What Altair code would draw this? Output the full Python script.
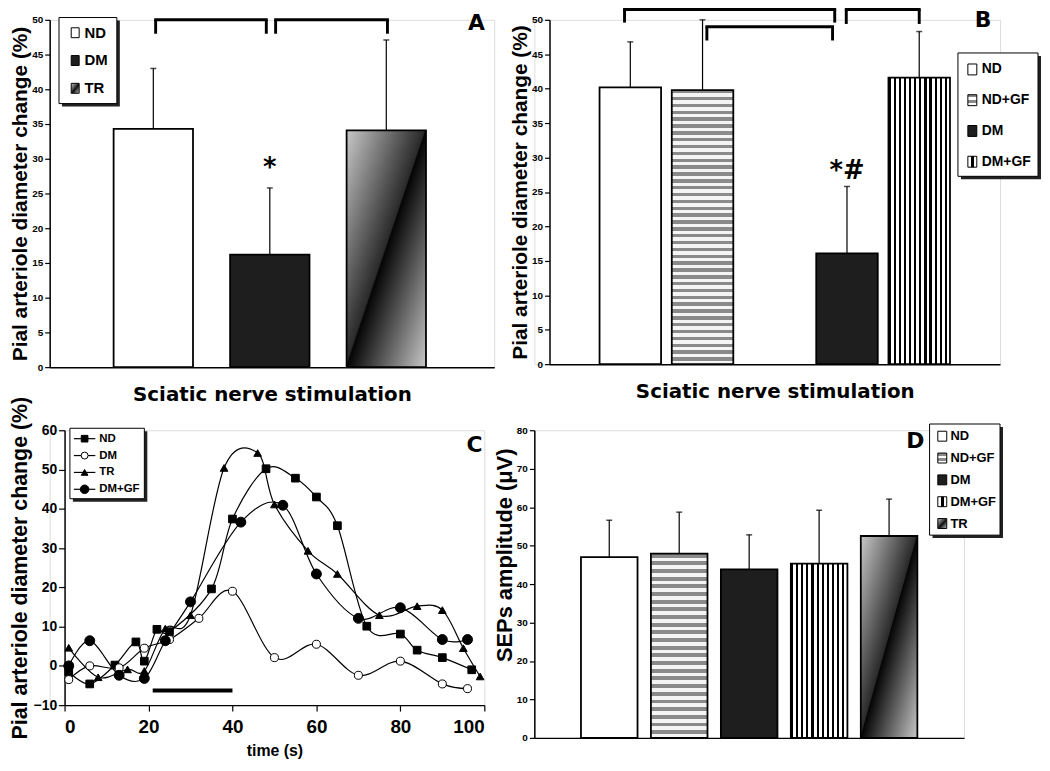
import altair as alt
import pandas as pd

# ---------------- Panel A : ND / DM / TR ----------------
A_GROUPS = ["ND", "DM", "TR"]
A_POS = [1, 2, 3]
A_MEAN = [34.3, 16.2, 34.1]
A_SD = [8.7, 9.6, 13.0]
A_BR_X1 = [1.02, 2.05]
A_BR_X2 = [1.97, 3.01]
A_BR_TOP = [50.0, 50.0]
A_BR_BOT = [48.0, 48.0]
A_SIG = ["*"]
A_SIG_X = [2]
A_SIG_Y = [29.7]

# ---------------- Panel B : ND / ND+GF / DM / DM+GF ----------------
B_GROUPS = ["ND", "ND+GF", "DM", "DM+GF"]
B_POS = [1, 2, 4, 5]
B_MEAN = [40.2, 39.8, 16.1, 41.6]
B_SD = [6.6, 10.2, 9.7, 6.7]
B_BR_X1 = [0.92, 2.06, 3.99]
B_BR_X2 = [3.83, 3.80, 5.00]
B_BR_TOP = [51.5, 49.0, 51.5]
B_BR_BOT = [49.6, 47.0, 49.4]
B_SIG = ["*#"]
B_SIG_X = [4]
B_SIG_Y = [28.4]

# ---------------- Panel C : time courses ----------------
ND_T = [1, 6, 12, 17, 19, 22, 25, 35, 40, 48, 55, 60, 65, 72, 80, 84, 90, 97]
ND_V = [-1.5, -4.6, 0.2, 6.1, 1.2, 9.3, 8.7, 19.6, 37.4, 50.2, 47.8, 43.0, 35.7, 10.1, 8.1, 4.0, 2.1, -1.0]
DM_T = [1, 6, 13, 19, 25, 32, 40, 50, 60, 70, 80, 90, 96]
DM_V = [-3.5, 0.0, -0.5, 4.5, 6.7, 12.1, 19.0, 2.1, 5.5, -2.4, 1.2, -4.6, -5.8]
TR_T = [1, 8, 15, 19, 24, 30, 38, 46, 50, 58, 65, 75, 84, 90, 95, 99]
TR_V = [4.6, -2.9, -0.9, -1.3, 9.5, 12.9, 50.4, 54.2, 41.1, 29.3, 23.4, 12.9, 15.2, 14.2, 4.5, -2.7]
GF_T = [1, 6, 13, 19, 24, 30, 42, 52, 60, 70, 80, 90, 96]
GF_V = [0.0, 6.4, -2.4, -3.2, 6.4, 16.3, 36.6, 40.9, 23.4, 12.1, 14.8, 6.7, 6.7]
C_SERIES = ["ND", "DM", "TR", "DM+GF"]
STIM_START = [21]
STIM_END = [40]
STIM_Y = [-6.3]

# ---------------- Panel D : SEPs amplitude ----------------
D_GROUPS = ["ND", "ND+GF", "DM", "DM+GF", "TR"]
D_POS = [1, 2, 3, 4, 5]
D_MEAN = [47.0, 47.9, 43.8, 45.3, 52.5]
D_SD = [9.6, 10.8, 9.0, 13.9, 9.6]

YTITLE = "Pial arteriole diameter change (%)"
XTITLE = "Sciatic nerve stimulation"
D_YTITLE = ["SEPs amplitude (\u03bcV)"]

SANS = "Liberation Sans"
HEAVY = "DejaVu Sans"


def gstops(pairs):
    return [alt.GradientStop(offset=round(o, 5), color=c) for o, c in pairs]


def stripes(n, on, off, frac, horizontal):
    pairs = []
    for i in range(n):
        pairs += [(i / n, on), ((i + frac) / n, on), ((i + frac) / n, off), ((i + 1) / n, off)]
    if horizontal:
        return alt.LinearGradient(gradient="linear", stops=gstops(pairs), x1=0, y1=0, x2=0, y2=1)
    return alt.LinearGradient(gradient="linear", stops=gstops(pairs), x1=0, y1=0, x2=1, y2=0)


def diag():
    return alt.LinearGradient(gradient="linear",
                              stops=gstops([(0, "#c8c8c8"), (0.49, "#2a2a2a"), (0.5, "#050505"), (1, "#c8c8c8")]),
                              x1=0, y1=0, x2=1, y2=1)


def dmgf_swatch():
    return alt.LinearGradient(gradient="linear",
                              stops=gstops([(0, "#ffffff"), (0.35, "#ffffff"), (0.35, "#000000"), (0.65, "#000000"),
                                            (0.65, "#ffffff"), (1, "#ffffff")]),
                              x1=0, y1=0, x2=1, y2=0)


LEG_FILLS = {"ND": "#ffffff", "ND+GF": stripes(2, "#8a8a8a", "#ffffff", 0.5, True), "DM": "#1e1e1e",
             "DM+GF": dmgf_swatch(), "TR": diag()}


def legend_box(x1, y1, x2, y2):
    one = pd.DataFrame({"k": [0]})
    shadow = alt.Chart(one).mark_rect(fill="#222222").encode(
        x=alt.value(x1 + 3), x2=alt.value(x2 + 3), y=alt.value(y1 + 3), y2=alt.value(y2 + 3))
    frame = alt.Chart(one).mark_rect(fill="white", stroke="black", strokeWidth=1).encode(
        x=alt.value(x1), x2=alt.value(x2), y=alt.value(y1), y2=alt.value(y2))
    return [shadow, frame]


def swatch_legend(labels, box, y0, dy, sx, sw, sh, tx, fsize, shift=0):
    x1, y1, x2, y2 = box
    layers = legend_box(x1 + shift, y1, x2 + shift, y2)
    for i, lab in enumerate(labels):
        yc = y0 + i * dy
        d = pd.DataFrame({"label": [lab]})
        layers.append(alt.Chart(d).mark_rect(fill=LEG_FILLS[lab], stroke="black", strokeWidth=1).encode(
            x=alt.value(sx + shift), x2=alt.value(sx + sw + shift), y=alt.value(yc - sh / 2),
            y2=alt.value(yc + sh / 2)))
        layers.append(alt.Chart(d).mark_text(align="left", baseline="middle", font=SANS, fontSize=fsize,
                                             fontWeight="bold", color="black").encode(
            x=alt.value(tx + shift), y=alt.value(yc), text="label:N"))
    return layers


def letter_layer(letter, x, y):
    d = pd.DataFrame({"letter": [letter]})
    return alt.Chart(d).mark_text(font=HEAVY, fontSize=22, fontWeight="bold", align="center",
                                  baseline="middle", color="black").encode(
        x=alt.value(x), y=alt.value(y), text="letter:N")


def bar_panel(groups, pos, mean, sd, fills, xdom, width, height, ymax, ystep, bar_size,
              br=None, sig=None, sig_dy=7, letter=None, legend=None, ytitle=None, xtitle=None,
              label_size=10, title_size=21, shift=0, extra=None):
    df = pd.DataFrame({"group": groups, "pos": pos, "mean": mean, "sd": sd})
    df["top"] = df["mean"] + df["sd"]
    xscale = alt.Scale(domain=xdom, range=[shift, shift + width], nice=False, zero=False)
    yscale = alt.Scale(domain=[0, ymax], nice=False)
    xkw = dict(labels=False, ticks=False, grid=False, domainWidth=1.5, domainColor="black")
    if xtitle:
        xkw.update(title=xtitle, titleFont=HEAVY, titleFontSize=20, titleFontWeight="bold",
                   titlePadding=18, titleColor="black")
    else:
        xkw.update(title=None)
    xaxis = alt.Axis(**xkw)
    ykw = dict(values=list(range(0, ymax + 1, ystep)), grid=False, tickSize=5, tickWidth=1.2,
               tickColor="black", domainColor="black", domainWidth=1.5, labelFont=SANS,
               labelFontSize=label_size, labelFontWeight="bold", labelColor="black", labelPadding=2)
    if ytitle:
        ykw.update(title=ytitle, titleFont=SANS, titleFontSize=title_size, titleFontWeight="bold",
                   titleColor="black", titlePadding=1)
    else:
        ykw.update(title=None)
    if shift:
        ykw["offset"] = -shift
    yaxis = alt.Axis(**ykw)

    def X(f):
        return alt.X(f, scale=xscale, axis=xaxis)

    def Y(f):
        return alt.Y(f, scale=yscale, axis=yaxis)

    base = alt.Chart(df)
    layers = [
        base.mark_rule(color="black", strokeWidth=1.2).encode(x=X("pos:Q"), y=Y("mean:Q"), y2="top:Q"),
        base.mark_tick(color="black", orient="horizontal", size=6, thickness=1.5).encode(
            x=X("pos:Q"), y=Y("top:Q")),
    ]
    for g in groups:
        layers.append(base.transform_filter(alt.datum.group == g).mark_bar(
            size=bar_size, fill=fills[g], stroke="black", strokeWidth=1.8, orient="vertical").encode(
            x=X("pos:Q"), y=Y("mean:Q")))
    if br is not None:
        # bracket strokes drawn as filled 3px-thick rectangles
        hx = 1.5 * (xdom[1] - xdom[0]) / width
        hy = 1.5 * ymax / height
        bdf = pd.DataFrame({"x1": br[0], "x2": br[1], "top": br[2], "bot": br[3]})
        layers.append(alt.Chart(bdf).transform_calculate(
            xa=f"datum.x1 - {hx}", xb=f"datum.x2 + {hx}", ya=f"datum.top + {hy}", yb=f"datum.top - {hy}"
        ).mark_rect(fill="black").encode(x=X("xa:Q"), x2="xb:Q", y=Y("ya:Q"), y2="yb:Q"))
        layers.append(alt.Chart(bdf).transform_fold(["x1", "x2"], as_=["side", "xv"]).transform_calculate(
            xa=f"datum.xv - {hx}", xb=f"datum.xv + {hx}"
        ).mark_rect(fill="black").encode(x=X("xa:Q"), x2="xb:Q", y=Y("top:Q"), y2="bot:Q"))
    if sig is not None:
        sdf = pd.DataFrame({"txt": sig[0], "sx": sig[1], "sy": sig[2]})
        layers.append(alt.Chart(sdf).mark_text(font=HEAVY, fontSize=26, fontWeight="bold", baseline="middle",
                                               dy=sig_dy, color="black").encode(
            x=X("sx:Q"), y=Y("sy:Q"), text="txt:N"))
    if letter is not None:
        layers.append(letter_layer(letter[0], letter[1] + shift, letter[2]))
    if legend is not None:
        layers += legend
    if extra is not None:
        layers += extra
    return alt.layer(*layers).properties(width=shift + width, height=height)


# ---- panel A
A_FILLS = {"ND": "#ffffff", "DM": "#1e1e1e", "TR": diag()}
panel_a = bar_panel(
    A_GROUPS, A_POS, A_MEAN, A_SD, A_FILLS, [0.153, 3.884], 448, 350, 50, 5, 80,
    br=(A_BR_X1, A_BR_X2, A_BR_TOP, A_BR_BOT), sig=(A_SIG, A_SIG_X, A_SIG_Y),
    letter=("A", 430, 3), ytitle=YTITLE, xtitle=XTITLE,
    legend=swatch_legend(["ND", "DM", "TR"], (9.4, -2.3, 67.7, 84.4), 13, 28, 21.7, 8, 10, 35, 15))

# ---- panel B  (shifted inside its cell so it lines up with the reference)
B_SHIFT = 15.3
B_FILLS = {"ND": "#ffffff", "ND+GF": stripes(40, "#8a8a8a", "#f4f4f4", 0.5, True), "DM": "#1e1e1e",
           "DM+GF": stripes(12, "#000000", "#ffffff", 0.42, False)}
panel_b = bar_panel(
    B_GROUPS, B_POS, B_MEAN, B_SD, B_FILLS, [-0.05, 6.05], 454, 347, 50, 5, 62,
    br=(B_BR_X1, B_BR_X2, B_BR_TOP, B_BR_BOT), sig=(B_SIG, B_SIG_X, B_SIG_Y), sig_dy=3,
    letter=("B", 437, 0), ytitle=YTITLE, xtitle=XTITLE, shift=B_SHIFT,
    legend=swatch_legend(B_GROUPS, (411.6, 33.4, 492.3, 157.7), 50, 31, 421.6, 9, 11, 435.6, 14,
                         shift=B_SHIFT))

# ---- panel D (y title drawn as rotated text so it sits where the reference has it)
D_FILLS = {"ND": "#ffffff", "ND+GF": stripes(24, "#8a8a8a", "#f4f4f4", 0.5, True), "DM": "#1e1e1e",
           "DM+GF": stripes(11, "#000000", "#ffffff", 0.42, False), "TR": diag()}
d_title = alt.Chart(pd.DataFrame({"t": D_YTITLE})).mark_text(
    font=SANS, fontSize=22, fontWeight="bold", angle=270, align="center", baseline="middle",
    color="black").encode(x=alt.value(-30), y=alt.value(126), text="t:N")
panel_d = bar_panel(
    D_GROUPS, D_POS, D_MEAN, D_SD, D_FILLS, [0, 6], 433, 310, 80, 10, 57,
    letter=("D", 384, 11), xtitle=None, label_size=10, extra=[d_title],
    legend=swatch_legend(D_GROUPS, (398.3, -6.3, 469.3, 105.7), 6, 22, 406.6, 9, 10, 419.3, 13))

# ---- panel C
C_SHIFT = 15
C_W = 423
rows = []
for name, ts, vs in [("ND", ND_T, ND_V), ("DM", DM_T, DM_V), ("TR", TR_T, TR_V), ("DM+GF", GF_T, GF_V)]:
    for t, v in zip(ts, vs):
        rows.append({"series": name, "t": t, "v": v})
cdf = pd.DataFrame(rows)

cx_scale = alt.Scale(domain=[0, 100], range=[C_SHIFT, C_SHIFT + C_W], nice=False, zero=False)
cy_scale = alt.Scale(domain=[-10, 60], nice=False)
cx_axis = alt.Axis(title="time (s)", values=[0, 20, 40, 60, 80, 100], grid=False, tickSize=6, tickWidth=1.2,
                   tickColor="black", domainColor="black", domainWidth=1.5, labelFont=SANS, labelFontSize=19,
                   labelFontWeight="bold", labelColor="black", labelPadding=7, titleFont=SANS,
                   titleFontSize=16, titleFontWeight="bold", titleColor="black", titlePadding=6)
cy_axis = alt.Axis(title=YTITLE, values=list(range(-10, 61, 10)), grid=False, tickSize=6, tickWidth=1.2,
                   tickColor="black", domainColor="black", domainWidth=1.5, labelFont=SANS, labelFontSize=14,
                   labelFontWeight="bold", labelColor="black", labelPadding=2, titleFont=SANS,
                   titleFontSize=21.5, titleFontWeight="bold", titleColor="black", titlePadding=2,
                   offset=-C_SHIFT)
CX = alt.X("t:Q", scale=cx_scale, axis=cx_axis)
CY = alt.Y("v:Q", scale=cy_scale, axis=cy_axis)

STYLE = {
    "ND": dict(shape="square", fill="black", size=60),
    "DM": dict(shape="circle", fill="white", size=65),
    "TR": dict(shape="triangle-up", fill="black", size=60),
    "DM+GF": dict(shape="circle", fill="black", size=100),
}

c_layers = [
    alt.Chart(cdf).mark_line(interpolate="cardinal", color="black", strokeWidth=1.2).encode(
        x=CX, y=CY, detail="series:N")
]
for name in C_SERIES:
    st = STYLE[name]
    c_layers.append(alt.Chart(cdf).transform_filter(alt.datum.series == name).mark_point(
        shape=st["shape"], filled=True, fill=st["fill"], stroke="black", strokeWidth=1, size=st["size"],
        opacity=1).encode(x=CX, y=CY))

sdf = pd.DataFrame({"t1": STIM_START, "t2": STIM_END, "y": STIM_Y})
c_layers.append(alt.Chart(sdf).mark_rule(color="black", strokeWidth=4).encode(
    x=alt.X("t1:Q", scale=cx_scale, axis=cx_axis), x2="t2:Q", y=alt.Y("y:Q", scale=cy_scale, axis=cy_axis)))

# legend for C
c_layers += legend_box(C_SHIFT + 5.4, -2, C_SHIFT + 80.4, 69)
for i, name in enumerate(C_SERIES):
    yc = 8.5 + i * 17
    st = STYLE[name]
    d = pd.DataFrame({"label": [name]})
    c_layers.append(alt.Chart(d).mark_rule(color="black", strokeWidth=1.2).encode(
        x=alt.value(C_SHIFT + 9.4), x2=alt.value(C_SHIFT + 31), y=alt.value(yc)))
    c_layers.append(alt.Chart(d).mark_point(shape=st["shape"], filled=True, fill=st["fill"], stroke="black",
                                            strokeWidth=1, size=st["size"] * 0.75, opacity=1).encode(
        x=alt.value(C_SHIFT + 20.2), y=alt.value(yc)))
    c_layers.append(alt.Chart(d).mark_text(align="left", baseline="middle", font=SANS, fontSize=11.5,
                                           fontWeight="bold", color="black").encode(
        x=alt.value(C_SHIFT + 35), y=alt.value(yc), text="label:N"))
c_layers.append(letter_layer("C", C_SHIFT + 413, 15))

panel_c = alt.layer(*c_layers).properties(width=C_SHIFT + C_W, height=277)

chart = alt.concat(
    panel_a, panel_b, panel_c, panel_d, columns=2,
    spacing={"row": 63.6, "column": 40.4}, bounds="flush",
).properties(padding={"top": -4, "left": 0, "right": 0, "bottom": 0}).configure_view(
    stroke=None).configure(background="white", font=SANS)

chart.save("out.html", embed_options={"renderer": "svg", "actions": False})
